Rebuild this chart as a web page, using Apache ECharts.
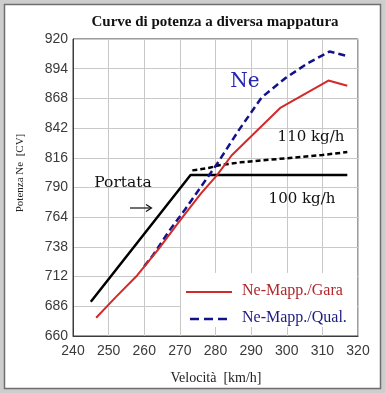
<!DOCTYPE html>
<html><head><meta charset="utf-8">
<script src="https://cdn.jsdelivr.net/npm/echarts@6/dist/echarts.min.js"></script>
<style>html,body{margin:0;padding:0;background:#cdcdcd;}#c{width:385px;height:393px;}</style>
</head><body><div id="c"></div>
<script>
// ---- data ----
const speedGara = [246.5, 252, 258, 264, 270, 276, 280.5, 284.5, 298.3, 311.7, 317];
const powerGara = [676, 694, 713, 736, 761, 785, 801, 818, 860, 883.6, 879];

const speedQual = [260, 262.5, 267, 271.5, 276, 280.5, 286.5, 293, 299.5, 306, 312, 317];
const powerQual = [721, 731, 752, 771, 791, 811, 840, 869, 885.5, 899, 909, 905];

const speed100 = [245, 273, 317];
const power100 = [690, 801, 801];

const speed110 = [273.5, 278, 281, 287, 299.5, 310, 317];
const power110 = [805, 807, 809.5, 812, 815.5, 818.5, 821];

const xMin = 240, xMax = 320, xStep = 10;
const yMin = 660, yMax = 920, yStep = 26;

const title = 'Curve di potenza a diversa mappatura';
const xName = 'Velocità  [km/h]';
const yName = 'Potenza Ne  [CV]';
const legendNames = ['Ne-Mapp./Gara', 'Ne-Mapp./Qual.'];

// ---- build ----
const pairs = (xs, ys) => xs.map((x, i) => [x, ys[i] - yMin]);
const RED = '#d22a2a', BLUE = '#12128a', BLACK = '#000';
const tickFont = { fontFamily: "'Liberation Sans Narrow','Liberation Sans',sans-serif", fontSize: 14, color: '#3a3a3a' };

const chart = echarts.init(document.getElementById('c'), null, { renderer: 'canvas' });
chart.setOption({
  animation: false,
  backgroundColor: '#cdcdcd',
  grid: { left: 73, right: 27, top: 39, bottom: 57, show: true, borderColor: '#3c3c3c', borderWidth: 1, backgroundColor: 'transparent' },
  xAxis: {
    type: 'value', min: xMin, max: xMax, interval: xStep,
    axisLine: { show: true, lineStyle: { color: '#3c3c3c', width: 1 } },
    axisTick: { show: false },
    axisLabel: Object.assign({ margin: 8 }, tickFont),
    splitLine: { show: true, lineStyle: { color: '#c9c9c9', width: 1 } }
  },
  yAxis: {
    type: 'value', min: 0, max: yMax - yMin, interval: yStep,
    axisLine: { show: true, lineStyle: { color: '#3c3c3c', width: 1 } },
    axisTick: { show: false },
    axisLabel: Object.assign({ margin: 5, formatter: v => String(v + yMin) }, tickFont),
    splitLine: { show: true, lineStyle: { color: '#c9c9c9', width: 1 } }
  },
  series: [
    { type: 'line', name: '110 kg/h', data: pairs(speed110, power110), symbol: 'none', z: 3,
      lineStyle: { color: BLACK, width: 2.5, type: [5, 3] } },
    { type: 'line', name: '100 kg/h', data: pairs(speed100, power100), symbol: 'none', z: 4,
      lineStyle: { color: BLACK, width: 2.5 } },
    { type: 'line', name: legendNames[1], data: pairs(speedQual, powerQual), symbol: 'none', z: 5,
      lineStyle: { color: BLUE, width: 2.5, type: [7, 4] } },
    { type: 'line', name: legendNames[0], data: pairs(speedGara, powerGara), symbol: 'none', z: 6,
      lineStyle: { color: RED, width: 2 } }
  ],
  graphic: [
    { type: 'rect', z: -10, silent: true, shape: { x: 4.5, y: 4.5, width: 376, height: 384 },
      style: { fill: '#fff', stroke: '#6f6f6f', lineWidth: 1.5 } },
    { type: 'text', z: 10, x: 215, y: 22, style: { text: title, align: 'center', verticalAlign: 'middle',
      font: "bold 15px 'Liberation Serif', serif", fill: '#111' } },
    { type: 'text', z: 10, x: 216, y: 378, style: { text: xName, align: 'center', verticalAlign: 'middle',
      font: "14px 'Liberation Serif', serif", fill: '#222' } },
    { type: 'text', z: 10, x: 20, y: 173, rotation: Math.PI / 2, style: { text: yName, align: 'center', verticalAlign: 'middle',
      font: "11px 'Liberation Serif', serif", fill: '#222' } },
    { type: 'text', z: 10, x: 245, y: 82, style: { text: 'Ne', align: 'center', verticalAlign: 'middle',
      font: "20px 'DejaVu Serif', serif", fill: '#2626b0' } },
    { type: 'text', z: 10, x: 311, y: 137, style: { text: '110 kg/h', align: 'center', verticalAlign: 'middle',
      font: "15px 'DejaVu Serif', serif", fill: '#111' } },
    { type: 'text', z: 10, x: 302, y: 199, style: { text: '100 kg/h', align: 'center', verticalAlign: 'middle',
      font: "15px 'DejaVu Serif', serif", fill: '#111' } },
    { type: 'text', z: 10, x: 123, y: 183, style: { text: 'Portata', align: 'center', verticalAlign: 'middle',
      font: "15.5px 'DejaVu Serif', serif", fill: '#111' } },
    { type: 'line', z: 10, shape: { x1: 130, y1: 208, x2: 151, y2: 208 }, style: { stroke: '#111', lineWidth: 1.2 } },
    { type: 'polyline', z: 10, shape: { points: [[146, 204.5], [151.5, 208], [146, 211.5]] }, style: { stroke: '#111', lineWidth: 1.2, fill: null } },
    // legend box
    { type: 'rect', z: 1, silent: true, shape: { x: 181, y: 273, width: 176, height: 54 }, style: { fill: '#fff' } },
    { type: 'line', z: 10, shape: { x1: 186, y1: 292, x2: 232, y2: 292 }, style: { stroke: RED, lineWidth: 2 } },
    { type: 'line', z: 10, shape: { x1: 190, y1: 319, x2: 231, y2: 319 }, style: { stroke: BLUE, lineWidth: 2.5, lineDash: [9, 5] } },
    { type: 'text', z: 10, x: 242, y: 291, style: { text: legendNames[0], align: 'left', verticalAlign: 'middle',
      font: "16px 'Liberation Serif', serif", fill: '#b0262a' } },
    { type: 'text', z: 10, x: 242, y: 318, style: { text: legendNames[1], align: 'left', verticalAlign: 'middle',
      font: "16px 'Liberation Serif', serif", fill: '#1c1c80' } }
  ]
});
</script>
</body></html>
